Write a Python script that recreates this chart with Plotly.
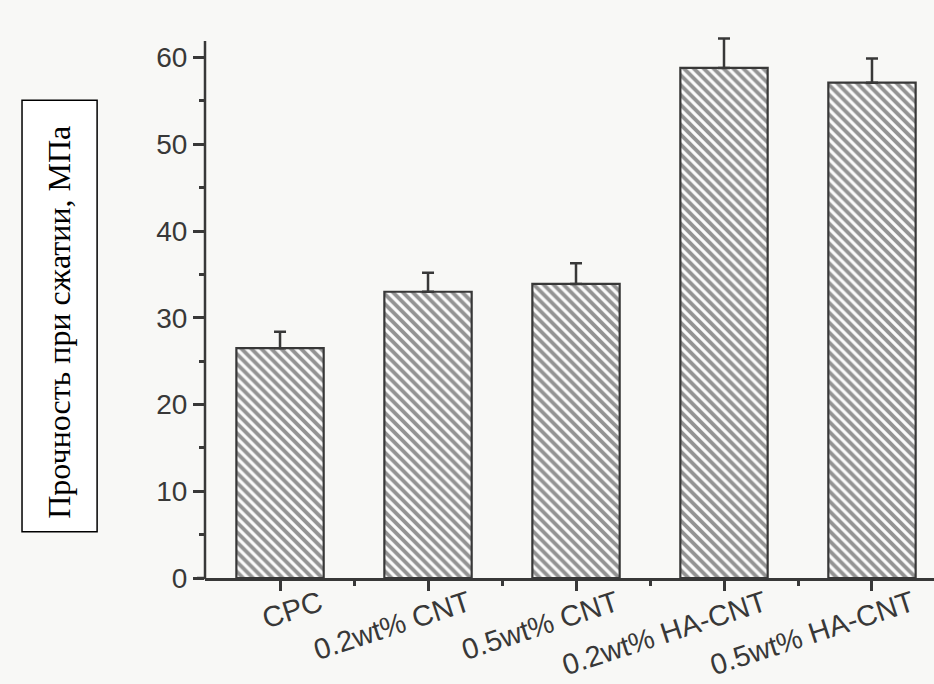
import plotly.graph_objects as go

categories = ["CPC", "0.2wt% CNT", "0.5wt% CNT", "0.2wt% HA-CNT", "0.5wt% HA-CNT"]
strength = [26.5, 33.0, 33.9, 58.8, 57.1]
err_up = [1.9, 2.2, 2.4, 3.4, 2.8]
y_ticks = [0, 10, 20, 30, 40, 50, 60]
y_title = "Прочность при сжатии, МПа"

ink = "#383838"
bg = "#f8f8f6"
xpos = list(range(len(categories)))

fig = go.Figure()
fig.add_trace(go.Bar(
    x=xpos, y=strength, width=0.59, cliponaxis=False,
    marker=dict(color="rgba(0,0,0,0)",
                line=dict(color=ink, width=2.2),
                pattern=dict(shape="\\", size=7, solidity=0.55,
                             fgcolor="#2c2c2c", bgcolor="#fbfbfb")),
    error_y=dict(type="data", symmetric=False, array=err_up,
                 arrayminus=[0] * len(strength),
                 color=ink, thickness=2.5, width=6),
    showlegend=False,
))

fig.update_layout(
    width=934, height=684,
    margin=dict(l=205, r=0, t=35, b=106, autoexpand=False),
    paper_bgcolor=bg, plot_bgcolor=bg,
    font=dict(family="Liberation Sans, Arial, sans-serif", size=28, color=ink),
    xaxis=dict(
        range=[-0.507, 4.419], tickvals=xpos, ticktext=categories,
        tickangle=-18, ticks="outside", ticklen=10, tickwidth=2.5, tickcolor=ink,
        showline=True, linecolor=ink, linewidth=2.5, showgrid=False, zeroline=False,
        ticklabelshift=40, ticklabelstandoff=-15, automargin=False,
        tickfont=dict(size=29),
        minor=dict(tickvals=[0.5, 1.5, 2.5, 3.5], ticks="outside", ticklen=5,
                   tickwidth=2.5, tickcolor=ink, showgrid=False),
    ),
    yaxis=dict(
        range=[0, 62.6], tickvals=y_ticks, ticks="outside", ticklen=11,
        tickwidth=2.5, tickcolor=ink, showline=False, showgrid=False,
        zeroline=False, tickfont=dict(size=28), automargin=False,
        minor=dict(dtick=5, ticks="outside", ticklen=5, tickwidth=2.5,
                   tickcolor=ink, showgrid=False),
    ),
    shapes=[
        dict(type="rect", xref="paper", yref="paper",
             x0=-0.251, x1=-0.148, y0=0.085, y1=0.88,
             line=dict(color="black", width=1.5), fillcolor="white", layer="below"),
        dict(type="line", xref="paper", yref="paper",
             x0=-0.011, x1=0, y0=0, y1=0, line=dict(color=ink, width=2.5)),
        dict(type="line", xref="paper", yref="y",
             x0=0, x1=0, y0=0, y1=61.9, line=dict(color=ink, width=2.5)),
    ],
    annotations=[
        dict(text=y_title, xref="paper", yref="paper",
             x=-0.1996, y=0.471, textangle=-90, showarrow=False,
             xanchor="center", yanchor="middle",
             font=dict(family="Liberation Serif, Times New Roman, serif",
                       size=32, color="black")),
    ],
)

fig.write_html("out.html")
